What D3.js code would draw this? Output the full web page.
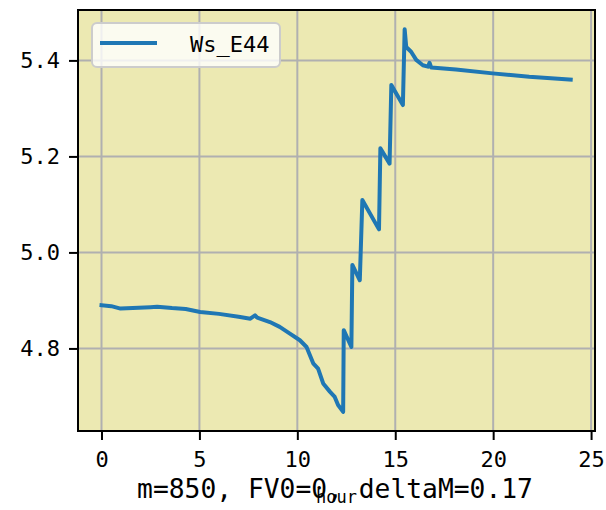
<!DOCTYPE html>
<html>
<head>
<meta charset="utf-8">
<script src="https://cdn.jsdelivr.net/npm/d3@7"></script>
<style>
  body { margin: 0; background: #fff; }
  svg { display: block; font-family: "DejaVu Sans Mono", monospace; }
</style>
</head>
<body>
<svg id="chart" width="606" height="510"></svg>
<script>
// Ws_E44 over the day
const hours = [0, 0.5, 0.97, 1.6, 2.5, 2.84, 3.6, 4.3, 5.04, 6.0, 7.0, 7.6, 7.84, 7.95, 8.6, 9.1,
  9.62, 10.13, 10.47, 10.81, 11.06, 11.32, 11.66, 11.91, 12.08, 12.34,
  12.37, 12.76, 12.81, 13.19, 13.32, 14.17, 14.24, 14.71, 14.80, 15.39, 15.48,
  15.56, 15.81, 16.07, 16.41, 16.67, 16.75, 16.84, 18.1, 19.97, 21.84, 23.96];
const wsE44 = [4.890, 4.888, 4.883, 4.884, 4.886, 4.887, 4.884, 4.882, 4.876, 4.872, 4.866, 4.862, 4.869, 4.864, 4.855, 4.845,
  4.831, 4.817, 4.803, 4.769, 4.758, 4.727, 4.710, 4.699, 4.682, 4.668,
  4.838, 4.803, 4.974, 4.942, 5.109, 5.048, 5.217, 5.185, 5.349, 5.307, 5.465,
  5.428, 5.418, 5.401, 5.390, 5.387, 5.395, 5.385, 5.381, 5.373, 5.366, 5.360];

const xTicks = [0, 5, 10, 15, 20, 25];
const yTicks = [4.8, 5.0, 5.2, 5.4];
const seriesName = 'Ws_E44';
const xLabel = 'hour';
const noteText = 'm=850, FV0=0, deltaM=0.17';

const svg = d3.select('#chart');
const plot = { left: 78, right: 595, top: 10, bottom: 431 };

const x = d3.scaleLinear().domain([-1.2, 25.2]).range([plot.left, plot.right]);
const y = d3.scaleLinear().domain([4.628, 5.505]).range([plot.bottom, plot.top]);

// axes background
svg.append('rect')
  .attr('x', plot.left).attr('y', plot.top)
  .attr('width', plot.right - plot.left).attr('height', plot.bottom - plot.top)
  .attr('fill', '#ece9b2');

// grid
const grid = svg.append('g').attr('stroke', '#b0b0b0').attr('stroke-width', 2);
grid.selectAll('.gx').data(xTicks).enter().append('line')
  .attr('x1', d => x(d)).attr('x2', d => x(d))
  .attr('y1', plot.top).attr('y2', plot.bottom);
grid.selectAll('.gy').data(yTicks).enter().append('line')
  .attr('x1', plot.left).attr('x2', plot.right)
  .attr('y1', d => y(d)).attr('y2', d => y(d));

// the series
const line = d3.line().x((d, i) => x(hours[i])).y(d => y(d));
svg.append('path')
  .datum(wsE44)
  .attr('d', line)
  .attr('fill', 'none')
  .attr('stroke', '#1f77b4')
  .attr('stroke-width', 4)
  .attr('stroke-linejoin', 'round')
  .attr('stroke-linecap', 'square');

// spines
svg.append('rect')
  .attr('x', plot.left).attr('y', plot.top)
  .attr('width', plot.right - plot.left).attr('height', plot.bottom - plot.top)
  .attr('fill', 'none').attr('stroke', '#000').attr('stroke-width', 2);

// axes
const xAxis = svg.append('g')
  .attr('transform', `translate(0,${plot.bottom})`)
  .call(d3.axisBottom(x).tickValues(xTicks).tickSize(9).tickPadding(11).tickFormat(d3.format('d')));
const yAxis = svg.append('g')
  .attr('transform', `translate(${plot.left},0)`)
  .call(d3.axisLeft(y).tickValues(yTicks).tickSize(9).tickPadding(9).tickFormat(d3.format('.1f')));

[xAxis, yAxis].forEach(a => {
  a.select('.domain').remove();
  a.selectAll('.tick line').attr('stroke', '#000').attr('stroke-width', 2);
  a.selectAll('.tick text')
    .attr('fill', '#000')
    .attr('font-size', '22px')
    .attr('font-family', '"DejaVu Sans Mono", monospace');
});

// x label and note (they overlap in the original)
svg.append('text')
  .attr('x', (plot.left + plot.right) / 2)
  .attr('y', 503)
  .attr('text-anchor', 'middle')
  .attr('font-size', '17px')
  .text(xLabel);

svg.append('text')
  .attr('x', 335)
  .attr('y', 498)
  .attr('text-anchor', 'middle')
  .attr('font-size', '26.3px')
  .text(noteText);

// legend
const legend = svg.append('g');
legend.append('rect')
  .attr('x', 92).attr('y', 23)
  .attr('width', 188).attr('height', 44)
  .attr('rx', 5)
  .attr('fill', '#fff').attr('fill-opacity', 0.8)
  .attr('stroke', '#cccccc').attr('stroke-width', 2);
legend.append('line')
  .attr('x1', 100).attr('x2', 157)
  .attr('y1', 43).attr('y2', 43)
  .attr('stroke', '#1f77b4').attr('stroke-width', 4);
legend.append('text')
  .attr('x', 190).attr('y', 52)
  .attr('font-size', '22px')
  .text(seriesName);
</script>
</body>
</html>
